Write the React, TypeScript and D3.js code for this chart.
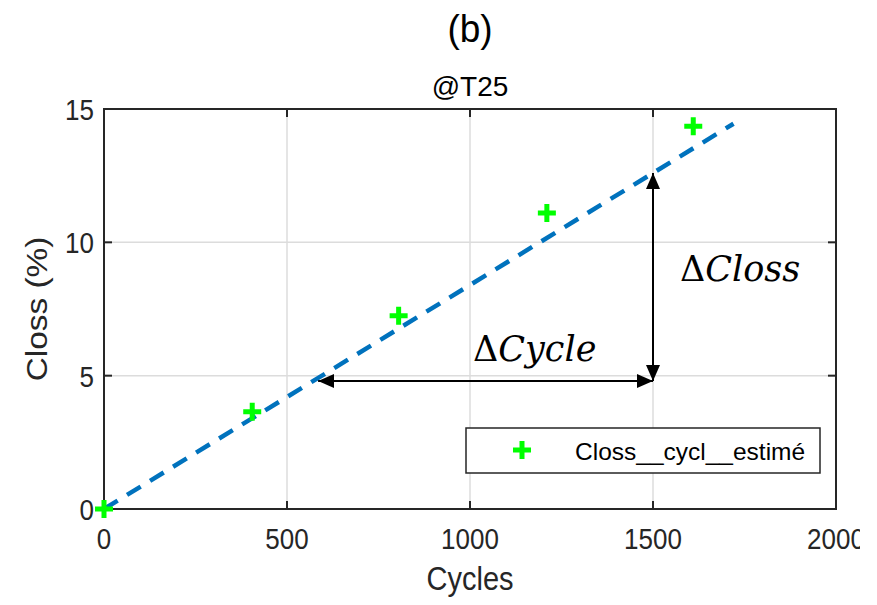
import React, { useEffect, useRef } from "react";
import * as d3 from "d3";

// Measured capacity loss per cycle count
const cycles = [0, 405, 805, 1210, 1610];
const closs = [0, 3.65, 7.25, 11.1, 14.35];

// Linear fit line endpoints
const fitCycles = [0, 1720];
const fitSlope = 0.0084;

const xTicks = [0, 500, 1000, 1500, 2000];
const yTicks = [0, 5, 10, 15];

// Annotation arrows
const deltaCycleY = 4.8;
const deltaCycleFrom = 585;
const deltaCycleTo = 1500;

const W = 877;
const H = 605;
const margin = { left: 104, right: 41, top: 109, bottom: 96 };
const TALL = 1.15; // vertical stretch applied to axis text

type G = d3.Selection<SVGGElement, unknown, null, undefined>;

export default function App() {
  const ref = useRef<SVGSVGElement>(null);

  useEffect(() => {
    const svg = d3.select(ref.current);
    svg.selectAll("*").remove();

    const x = d3.scaleLinear().domain([0, 2000]).range([margin.left, W - margin.right]);
    const y = d3.scaleLinear().domain([0, 15]).range([H - margin.bottom, margin.top]);

    const defs = svg.append("defs");
    defs.append("clipPath").attr("id", "pageClip")
      .append("rect").attr("x", 0).attr("y", 0).attr("width", 860).attr("height", H);
    defs.append("marker").attr("id", "arrowHead")
      .attr("viewBox", "0 0 16 14").attr("refX", 16).attr("refY", 7)
      .attr("markerWidth", 16).attr("markerHeight", 14).attr("markerUnits", "userSpaceOnUse")
      .attr("orient", "auto-start-reverse")
      .append("path").attr("d", "M0,0 L16,7 L0,14 Z").attr("fill", "#000");

    svg.append("rect").attr("width", W).attr("height", H).attr("fill", "#fff");

    const root = svg.append("g").attr("clip-path", "url(#pageClip)") as unknown as G;
    const font = "'Liberation Sans', Arial, sans-serif";

    const label = (
      g: G, px: number, py: number, s: string, size: number,
      anchor: string, fill: string, rot = 0, sx = 1, sy = TALL
    ) => {
      g.append("text")
        .attr("transform", `translate(${px},${py}) rotate(${rot}) scale(${sx},${sy})`)
        .attr("text-anchor", anchor).attr("font-family", font).attr("font-size", size)
        .attr("fill", fill).text(s);
    };

    // grid
    root.append("g").selectAll("line").data(xTicks.slice(1, -1)).join("line")
      .attr("x1", d => x(d)).attr("x2", d => x(d))
      .attr("y1", y(0)).attr("y2", y(15))
      .attr("stroke", "#dcdcdc").attr("stroke-width", 1.5);
    root.append("g").selectAll("line").data(yTicks.slice(1, -1)).join("line")
      .attr("y1", d => y(d)).attr("y2", d => y(d))
      .attr("x1", x(0)).attr("x2", x(2000))
      .attr("stroke", "#dcdcdc").attr("stroke-width", 1.5);

    // fit line
    const line = d3.line<number>().x(d => x(d)).y(d => y(d * fitSlope));
    root.append("path").datum(fitCycles).attr("d", line)
      .attr("fill", "none").attr("stroke", "#0072BD").attr("stroke-width", 4.5)
      .attr("stroke-dasharray", "16,11");

    // box
    root.append("rect")
      .attr("x", x(0)).attr("y", y(15))
      .attr("width", x(2000) - x(0)).attr("height", y(0) - y(15))
      .attr("fill", "none").attr("stroke", "#262626").attr("stroke-width", 2);

    // tick marks
    const tl = 8;
    xTicks.forEach(t => {
      root.append("line").attr("x1", x(t)).attr("x2", x(t)).attr("y1", y(0)).attr("y2", y(0) - tl)
        .attr("stroke", "#262626").attr("stroke-width", 2);
      root.append("line").attr("x1", x(t)).attr("x2", x(t)).attr("y1", y(15)).attr("y2", y(15) + tl)
        .attr("stroke", "#262626").attr("stroke-width", 2);
    });
    yTicks.forEach(t => {
      root.append("line").attr("y1", y(t)).attr("y2", y(t)).attr("x1", x(0)).attr("x2", x(0) + tl)
        .attr("stroke", "#262626").attr("stroke-width", 2);
      root.append("line").attr("y1", y(t)).attr("y2", y(t)).attr("x1", x(2000)).attr("x2", x(2000) - tl)
        .attr("stroke", "#262626").attr("stroke-width", 2);
    });

    // tick labels
    const tickG = root.append("g") as unknown as G;
    xTicks.forEach(t => label(tickG, x(t), y(0) + 40, String(t), 26, "middle", "#262626"));
    yTicks.forEach(t => label(tickG, x(0) - 10, y(t) + 11, String(t), 26, "end", "#262626"));

    // axis titles
    label(root, x(1000), 590, "Cycles", 29, "middle", "#262626");
    label(root, 47, y(7.5), "Closs (%)", 29, "middle", "#262626", -90, TALL, 1);

    // titles
    label(root, x(1000), 42, "(b)", 37, "middle", "#000", 0, 1, 1.05);
    label(root, x(1000), 96, "@T25", 28, "middle", "#000", 0, 1, 1);

    // arrows
    root.append("line")
      .attr("x1", x(deltaCycleFrom)).attr("x2", x(deltaCycleTo))
      .attr("y1", y(deltaCycleY)).attr("y2", y(deltaCycleY))
      .attr("stroke", "#000").attr("stroke-width", 2)
      .attr("marker-start", "url(#arrowHead)").attr("marker-end", "url(#arrowHead)");
    root.append("line")
      .attr("x1", x(deltaCycleTo)).attr("x2", x(deltaCycleTo))
      .attr("y1", y(deltaCycleY)).attr("y2", y(deltaCycleTo * fitSlope))
      .attr("stroke", "#000").attr("stroke-width", 2)
      .attr("marker-start", "url(#arrowHead)").attr("marker-end", "url(#arrowHead)");

    const mathFont = "'DejaVu Serif', 'Liberation Serif', serif";
    const addMath = (px: number, py: number, word: string) => {
      const t = root.append("text").attr("x", px).attr("y", py)
        .attr("font-family", mathFont).attr("font-size", 35).attr("fill", "#000");
      t.append("tspan").text("Δ");
      t.append("tspan").attr("font-style", "italic").text(word);
    };
    addMath(680, 281, "Closs");
    addMath(473, 361, "Cycle");

    // data markers
    const plus = (g: G, cx: number, cy: number) => {
      g.append("path")
        .attr("d", `M${cx - 9},${cy} H${cx + 9} M${cx},${cy - 9} V${cy + 9}`)
        .attr("stroke", "#00FF00").attr("stroke-width", 5).attr("fill", "none");
    };
    const pts = root.append("g") as unknown as G;
    cycles.forEach((c, i) => plus(pts, x(c), y(closs[i])));

    // legend
    const lg = root.append("g") as unknown as G;
    lg.append("rect").attr("x", 466).attr("y", 428).attr("width", 354).attr("height", 45)
      .attr("fill", "#fff").attr("stroke", "#262626").attr("stroke-width", 1.5);
    plus(lg, 522, 450);
    label(lg, 575, 460, "Closs__cycl__estimé", 24.5, "start", "#000", 0, 1, 1);
  }, []);

  return (
    <svg ref={ref} width={W} height={H}
      style={{ position: "absolute", left: 0, top: 0, display: "block" }} />
  );
}
